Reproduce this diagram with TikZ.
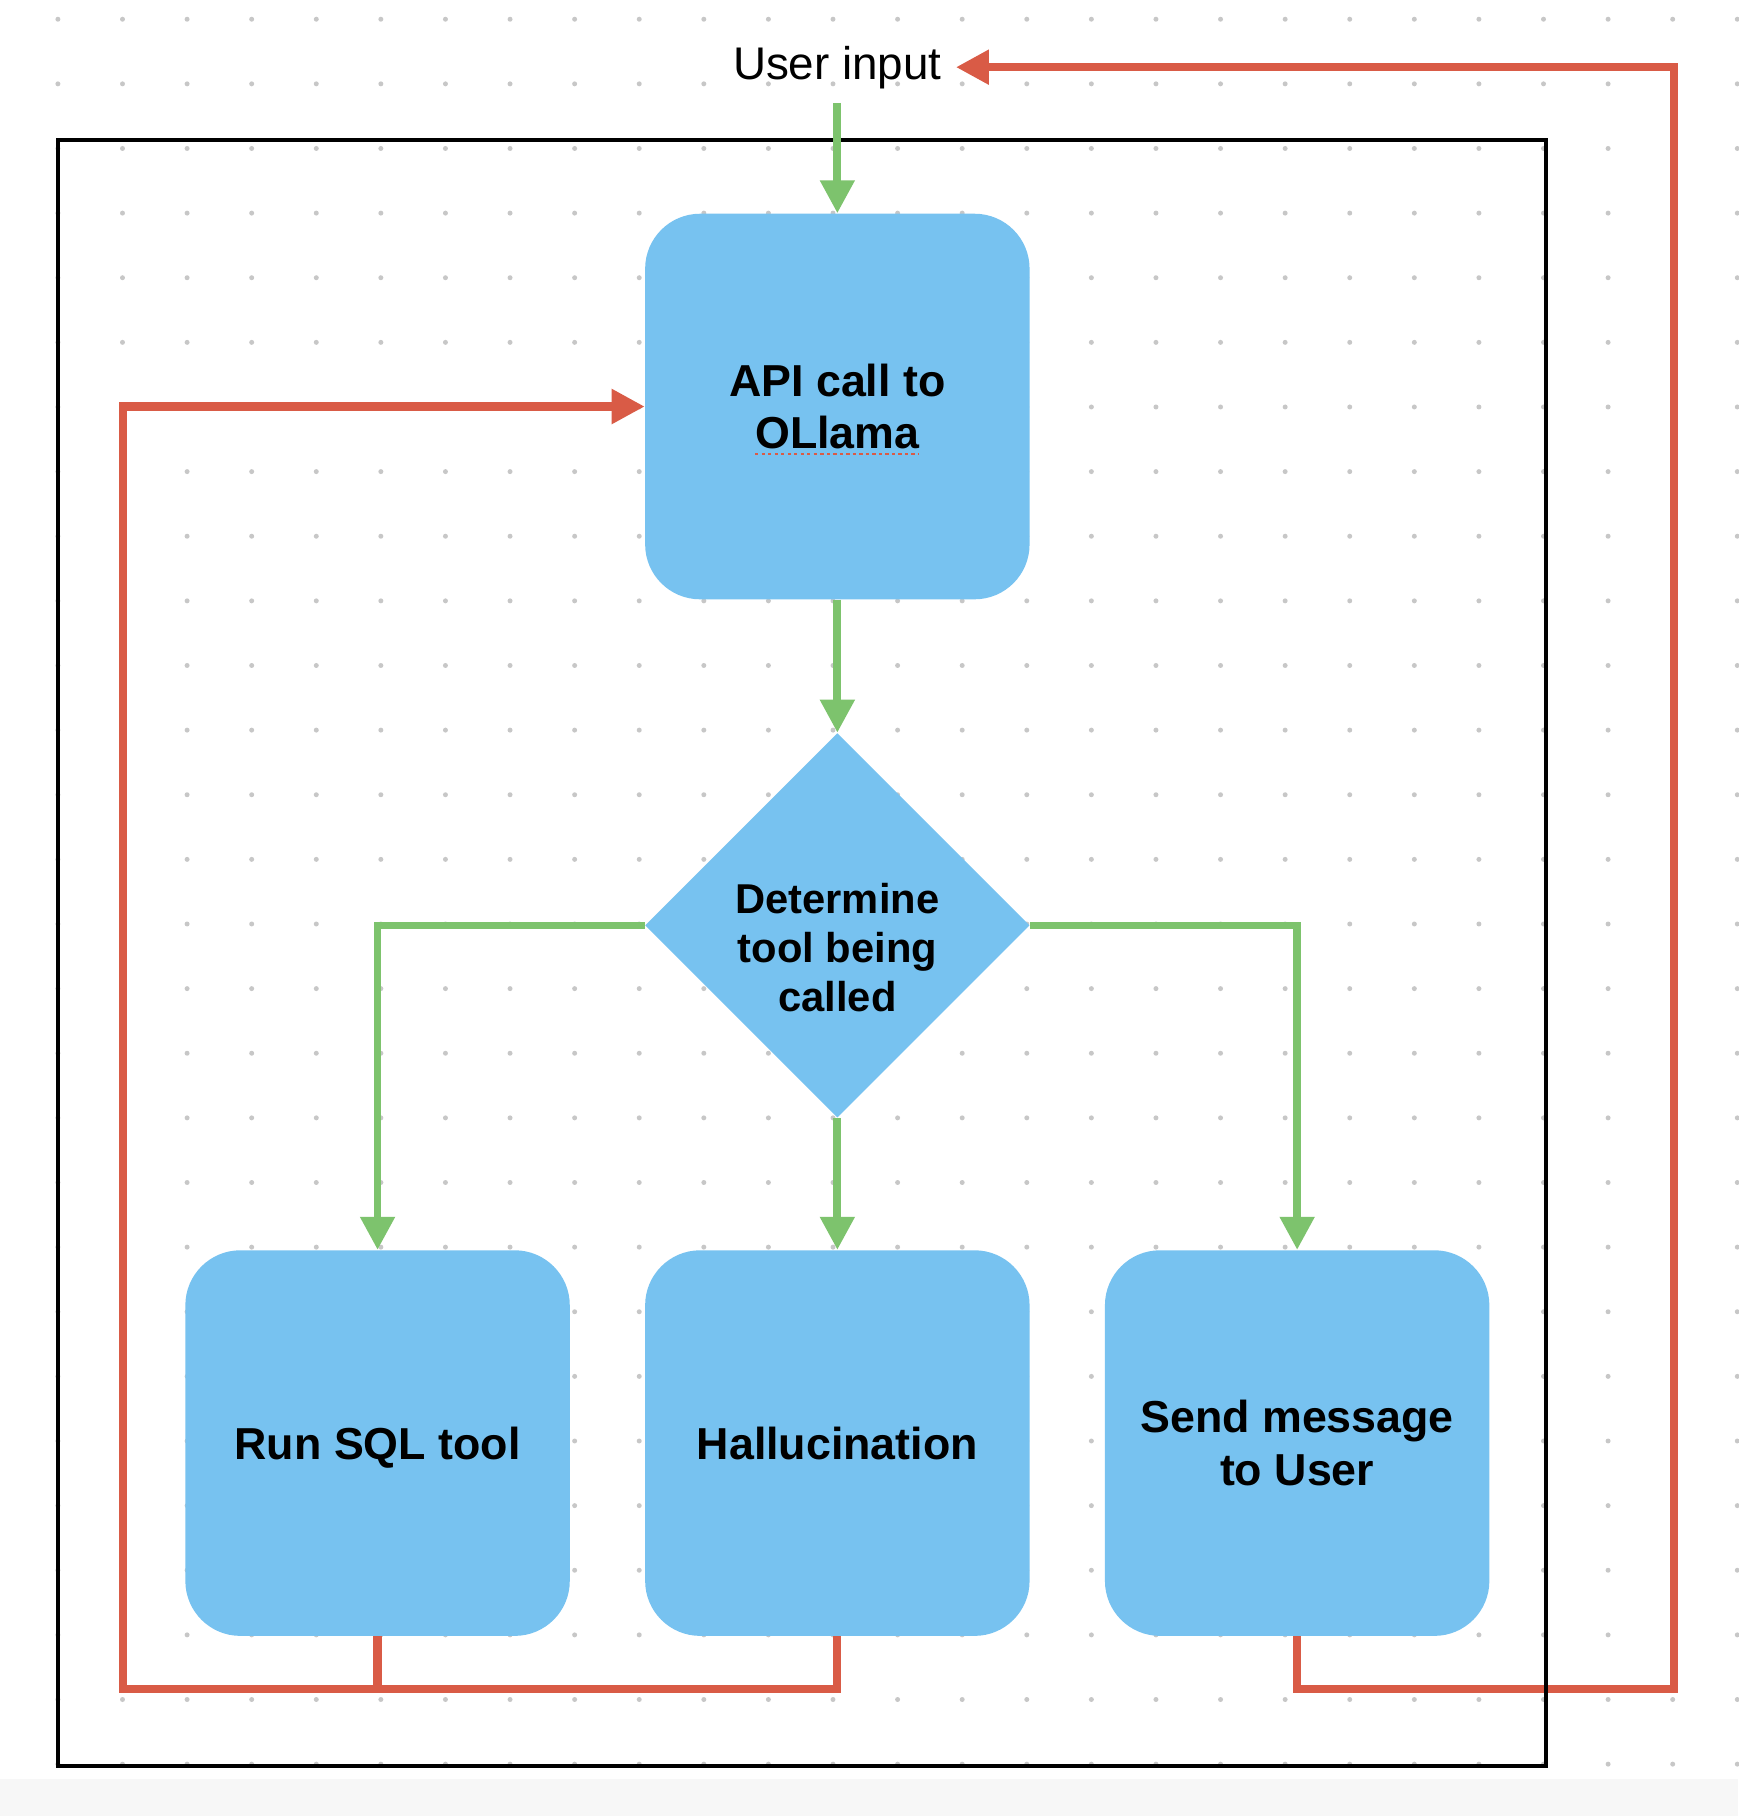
\documentclass[tikz,border=0pt]{standalone}
\usepackage{fontspec}
\setmainfont{Liberation Sans}
\usepackage{xcolor}
\usetikzlibrary{positioning}
\usetikzlibrary{shapes.geometric,arrows.meta}

\definecolor{boxblue}{HTML}{77C2F0}
\definecolor{flowgreen}{HTML}{7DC36D}
\definecolor{backred}{HTML}{D95B46}

\begin{document}
\begin{tikzpicture}
            [x=0.02cm, y=-0.02cm,
             block/.style = {rectangle, rounded corners=0.95cm, fill=boxblue, minimum width=6.64cm, minimum height=6.66cm, inner sep=0pt, align=center, font=\bfseries\fontsize{22}{26}\selectfont},
             choice/.style = {diamond, aspect=1, fill=boxblue, minimum width=6.64cm, minimum height=6.64cm, inner sep=0pt},
             choicetext/.style = {align=center, inner sep=0pt, font=\bfseries\fontsize{20.5}{24}\selectfont},
             flowline/.style = {draw=flowgreen, line width=3.8pt, -{Triangle[length=0.57cm, width=0.57cm]}},
             backline/.style = {draw=backred, line width=4pt},
             backarrow/.style = {backline, -{Triangle[length=0.57cm, width=0.57cm]}}]

            \useasboundingbox (0,0) rectangle (1501,1568);
            \fill[white] (0,0) rectangle (1501,1568);
            \fill[black!3] (0,1536) rectangle (1501,1568);

            % dotted canvas
            \foreach \i in {0,...,26}
                \foreach \j in {0,...,27}
                    \fill[black!22] (50+\i*55.77, 16.6+\j*55.8) circle (0.043cm);

            \node[font=\fontsize{22.5}{26}\selectfont, inner sep=6.8pt] (input) at (723,58) {User input};

            \node[block] (api) at (723,351) {API call to\\OLlama};
            \node[choice] (tool) at (723,799) {};
            \node[choicetext] (toolText) at (723,818) {Determine\\tool being\\called};
            \node[block] (sql) at (326,1246) {\raisebox{0pt}[\height][0pt]{Run SQL tool}};
            \node[block] (hallu) at (723,1246) {Hallucination};
            \node[block] (send) at (1120,1246) {Send message\\to User};

            % spell check mark
            \draw[backred, line width=1.3pt, dash pattern=on 1.6pt off 1.6pt] (652,392) -- (793,392);

            \coordinate (lowleft) at (106,1458);
            \coordinate (lowright) at (1445,1458);

            \draw[backarrow] (hallu.south) |- (lowleft) |- (api.west);
            \draw[backline] (sql.south) -- (sql.south |- lowleft);
            \draw[backarrow] (send.south) |- (lowright) |- (input.east);

            \draw[line width=2.1pt] (50,121) rectangle (1335,1525);

            \draw[flowline] (input) -- (api);
            \draw[flowline] (api) -- (tool);
            \draw[flowline] (tool) -- (hallu);
            \draw[flowline] (tool.west) -| (sql);
            \draw[flowline] (tool.east) -| (send);

        \end{tikzpicture}
\end{document}
